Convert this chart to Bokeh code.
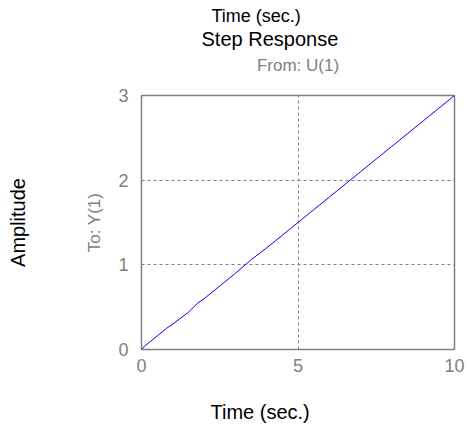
from bokeh.plotting import figure
from bokeh.models import Title, Range1d, FixedTicker, LinearAxis
from bokeh.embed import file_html
from bokeh.resources import INLINE

t = [0, 0.1, 0.5, 0.8, 1.0, 1.5, 1.8, 2.0, 2.5, 3.0, 3.5, 4.0, 4.5, 5.0, 5.5, 6.0,
     6.5, 7.0, 7.5, 8.0, 8.5, 9.0, 9.5, 10.0]
y = [0, 0.04, 0.16, 0.25, 0.30, 0.44, 0.55, 0.60, 0.75, 0.90, 1.06, 1.20, 1.35, 1.50,
     1.65, 1.80, 1.95, 2.10, 2.25, 2.40, 2.55, 2.70, 2.85, 3.0]
x_ticks = [0, 5, 10]
y_ticks = [0, 1, 2, 3]

FONT = "Liberation Sans"
GRAY = "#808080"

p = figure(width=467, height=430, output_backend="svg", toolbar_location=None,
           x_range=Range1d(0, 10), y_range=Range1d(0, 3),
           min_border_left=141, min_border_right=13, min_border_top=95, min_border_bottom=81)
p.line(t, y, line_color="#0000ff", line_width=1)

p.outline_line_color = GRAY
p.outline_line_width = 1.5
for ax in (p.xaxis, p.yaxis):
    ax.axis_line_color = None
    ax.major_tick_line_color = None
    ax.minor_tick_line_color = None
    ax.major_tick_out = 0
    ax.major_tick_in = 0
    ax.minor_tick_out = 0
    ax.major_label_text_font = FONT
    ax.major_label_text_font_size = "18px"
    ax.major_label_text_color = GRAY
p.xaxis.ticker = FixedTicker(ticks=x_ticks)
p.yaxis.ticker = FixedTicker(ticks=y_ticks)
p.xaxis.major_label_standoff = 9
p.yaxis.major_label_standoff = 13

# inner y label
p.yaxis.axis_label = "To: Y(1)"
p.yaxis.axis_label_standoff = 11
p.yaxis.axis_label_text_font = FONT
p.yaxis.axis_label_text_font_size = "17px"
p.yaxis.axis_label_text_font_style = "normal"
p.yaxis.axis_label_text_color = GRAY

p.xgrid.ticker = FixedTicker(ticks=[5])
p.ygrid.ticker = FixedTicker(ticks=[1, 2])
for g in (p.xgrid, p.ygrid):
    g.grid_line_color = GRAY
    g.grid_line_dash = "3 3"
    g.grid_line_width = 1

def label_axis(text, place, size, color, standoff):
    a = LinearAxis(ticker=FixedTicker(ticks=[]), axis_line_color=None,
                   major_tick_line_color=None, minor_tick_line_color=None,
                   major_tick_out=0, major_tick_in=0, minor_tick_out=0,
                   major_label_standoff=0, axis_label=text,
                   axis_label_standoff=standoff, axis_label_text_font=FONT,
                   axis_label_text_font_size=size, axis_label_text_font_style="normal",
                   axis_label_text_color=color)
    p.add_layout(a, place)

def spacer(place, gap):
    # invisible white tick that only reserves vertical room
    a = LinearAxis(ticker=FixedTicker(ticks=[5]), axis_line_color=None,
                   major_tick_line_color="white", minor_tick_line_color=None,
                   major_tick_out=gap, major_tick_in=0, minor_tick_out=0,
                   major_label_standoff=0, major_label_overrides={5: ""})
    p.add_layout(a, place)

def title(text, place, size, offset, color="black"):
    p.add_layout(Title(text=text, align="left", offset=offset, standoff=0,
                       text_font=FONT, text_font_size=size, text_font_style="normal",
                       text_color=color), place)

# above (first added sits nearest the frame)
label_axis("From: U(1)", "above", "17px", GRAY, 21)
spacer("above", 3)
title("Step Response", "above", "20px", 60)
title("Time (sec.)", "above", "18px", 70)
# below
spacer("below", 24)
title("Time (sec.)", "below", "20px", 69)
# left outer
label_axis("Amplitude", "left", "20px", "black", 54)

open("out.html", "w").write(file_html(p, INLINE))
